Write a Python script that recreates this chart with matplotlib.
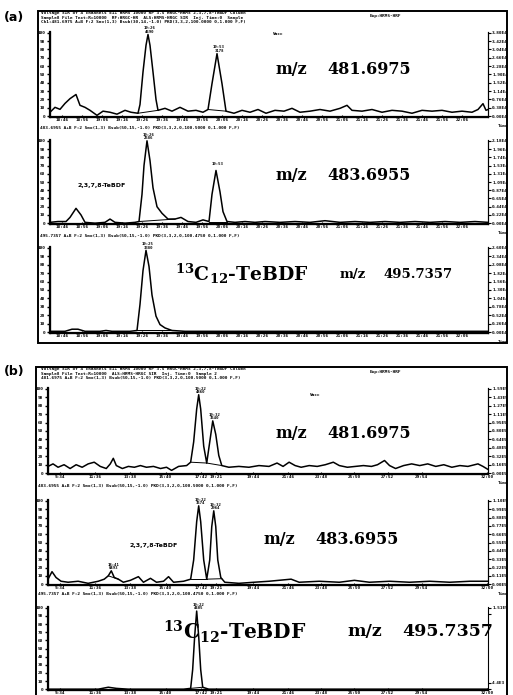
import numpy as np
import matplotlib
matplotlib.use("Agg")
import matplotlib.pyplot as plt
from matplotlib.patches import Rectangle

plt.rcParams['mathtext.fontset'] = 'custom'
plt.rcParams['mathtext.rm'] = 'DejaVu Serif:bold'
plt.rcParams['mathtext.it'] = 'DejaVu Serif:bold'
plt.rcParams['mathtext.bf'] = 'DejaVu Serif:bold'

# ---------------- data (scan number, relative intensity %) ----------------
# panel (a), m/z 481.6975
a1_scan = [0, 5, 10, 15, 20, 26, 30, 35, 40, 47, 53, 60, 67, 75, 81, 88, 90, 93, 96, 98, 100,
           103, 106, 108, 115, 122, 130, 138, 146, 153, 158, 162, 167, 172, 176, 184, 192, 200,
           208, 216, 225, 234, 242, 250, 260, 270, 280, 290, 297, 302, 312, 322, 332, 342, 352,
           362, 372, 382, 392, 402, 412, 422, 428, 433, 436, 438]
a1_int = [4.7, 10.6, 8.2, 15.3, 21, 26, 13, 10.6, 7, 1, 6, 4.7, 2.4, 7, 4.7, 3.5, 14, 53, 85, 98, 85,
          53, 20, 7, 9.4, 6, 10.6, 6, 7, 4.7, 8, 39, 75, 39, 6, 3.5, 7, 4.7, 8, 3.5, 7,
          6, 9.4, 4.7, 6, 8, 6, 9.4, 13, 7, 6, 8, 4.7, 7, 6, 3.5, 7, 6, 7, 4.7, 6, 4.7,
          8, 15, 7, 8]
# panel (a), m/z 483.6955
a2_scan = [0, 8, 16, 20, 26, 31, 35, 45, 55, 60, 65, 75, 85, 89, 92, 94, 97, 100, 103, 107, 112,
           118, 125, 131, 138, 146, 153, 159, 162, 166, 170, 173, 177, 185, 195, 205, 215, 230,
           245, 260, 275, 290, 305, 320, 335, 350, 365, 380, 395, 410, 425, 438]
a2_int = [1, 2, 2, 7, 18, 10, 1, 0, 1, 5, 1, 0, 1, 2, 35, 70, 100, 76, 43, 20, 12,
          5, 5, 7, 2, 1, 4, 2, 35, 64, 38, 14, 2, 1, 2, 1, 2, 1,
          2, 1, 3, 1, 2, 1, 2, 1, 2, 1, 2, 1, 2, 1]
# panel (a), 13C12-TeBDF m/z 495.7357
a3_scan = [0, 15, 22, 28, 35, 50, 56, 62, 80, 87, 90, 93, 96, 99, 102, 106, 110, 115, 122, 135,
           150, 200, 250, 300, 350, 400, 438]
a3_int = [1, 1, 3.5, 3.5, 1, 1, 2, 1, 1, 2, 33, 73, 97, 78, 44, 19, 9, 5, 2, 1,
          1, 1, 1, 1, 1, 1, 1]

# panel (b), m/z 481.6975
b1_scan = [0, 5, 10, 16, 22, 28, 34, 40, 46, 52, 58, 62, 65, 68, 74, 80, 86, 92, 98, 105, 112,
           118, 123, 130, 138, 142, 145, 148, 150, 152, 155, 158, 161, 164, 167, 170, 173, 180,
           190, 200, 210, 220, 228, 234, 240, 246, 252, 260, 268, 276, 284, 290, 298, 306, 314,
           322, 328, 335, 340, 346, 354, 362, 370, 378, 386, 394, 402, 410, 418, 428, 433, 438]
b1_int = [8, 11, 7, 10, 5.5, 10, 7, 11, 13, 8, 5.5, 11, 17.6, 9, 5.5, 8, 7, 9, 7, 8, 5.5,
          7, 3.3, 8, 9, 13, 37, 76, 93, 76, 32, 12, 37, 62, 46, 21, 9, 7,
          8, 7, 9, 8, 12, 8, 13, 9, 7, 9, 8, 10, 13, 9, 7, 8, 9,
          8, 10, 15, 9, 5.5, 9, 11, 9, 11, 8, 10, 7, 9, 8, 11, 8, 4.4]
# panel (b), m/z 483.6955
b2_scan = [0, 4, 8, 13, 20, 30, 40, 50, 56, 60, 63, 66, 70, 75, 82, 90, 95, 102, 108, 115, 120,
           125, 135, 142, 145, 148, 150, 152, 155, 158, 161, 163, 165, 167, 169, 172, 176, 190,
           205, 220, 242, 250, 270, 290, 305, 320, 340, 360, 380, 400, 420, 438]
b2_int = [6, 15, 8, 3.5, 2.3, 3.5, 1, 3.5, 6, 10, 16, 8, 6, 2.3, 4.6, 9, 2.3, 7, 2.3, 3.5, 9,
          2.3, 3.5, 6, 29, 75, 94, 75, 29, 6, 29, 69, 88, 69, 29, 8, 2.3, 1,
          2.3, 3.5, 6, 2.3, 3.5, 2.3, 4.6, 2.3, 3.5, 2.3, 3.5, 2.3, 3.5, 3.5]
# panel (b), 13C12-TeBDF m/z 495.7357
b3_scan = [0, 50, 60, 68, 80, 135, 142, 144, 146, 148, 150, 152, 154, 160, 250, 350, 438]
b3_int = [0, 0, 2.4, 1, 0, 0, 1, 24, 65, 96, 65, 24, 2.4, 0, 0, 0, 0]

# integrated peak windows (start scan, end scan) and their labels
a1_peaks = [(88, 108, "19:26", "4690"), (158, 176, "19:53", "3178")]
a2_peaks = [(89, 125, "19:26", "2586"), (159, 177, "19:53", "")]
a3_peaks = [(87, 122, "19:25", "3380")]
b1_peaks = [(142, 158, "19:22", "4860"), (158, 173, "19:32", "3540")]
b2_peaks = [(60, 70, "18:41", "0493"), (142, 158, "19:22", "3574"), (158, 173, "19:32", "2964")]
b3_peaks = [(142, 154, "19:22", "4405")]

# axis tick labels
left_labels = ["0", "10", "20", "30", "40", "50", "60", "70", "80", "90", "100"]
a_time_labels = ["18:46", "18:56", "19:06", "19:16", "19:26", "19:36", "19:46", "19:56",
                 "20:06", "20:16", "20:26", "20:36", "20:46", "20:56", "21:06", "21:16",
                 "21:26", "21:36", "21:46", "21:56", "22:06"]
b_time_labels = ["9:34", "11:36", "13:38", "15:40", "17:42", "19:21", "19:44",
                 "21:46", "23:48", "25:50", "27:52", "29:54", "32:00"]
a_right_top = ["3.80E4", "2.18E4", "2.60E4"]
b_right_top = ["1.59E5", "1.10E5", "1.51E5"]

a_headers = ["Voltage SIR of 4 channels EI+ HRMS 10000 RP 3.5 HRGC-HRMS 2,3,7,8-TeBDF Column",
             "Sample8 File Text:R=10000  RF:HRGC-HR  ALS:HRMS-HRGC SIR  Inj. Time:0  Sample",
             "Ch1:481.6975 A+B F:2 Smo(1,3) Bsub(30,14,-1.0) PKD(3,3,2,100.0000 0,1.000 F,F)"]
b_headers = ["Voltage SIR of 4 channels EI+ HRMS 10000 RP 3.5 HRGC-HRMS 2,3,7,8-TeBDF Column",
             "Sample8 File Text:R=10000  ALS:HRMS-HRGC SIR  Inj. Time:0  Sample 2",
             "481.6975 A+B F:2 Smo(1,3) Bsub(50,15,-1.0) PKD(3,3,2,0,100.5000 0,1.000 F,F)"]
a_mid_headers = ["483.6955 A+B F:2 Smo(1,3) Bsub(50,15,-1.0) PKD(3,3,2,0,100.5000 0,1.000 F,F)",
                 "495.7357 A+B F:2 Smo(1,3) Bsub(50,15,-1.0) PKD(3,3,2,0,100.4750 0,1.000 F,F)"]
b_mid_headers = ["483.6955 A+B F:2 Smo(1,3) Bsub(50,15,-1.0) PKD(3,3,2,0,100.5000 0,1.000 F,F)",
                 "495.7357 A+B F:2 Smo(1,3) Bsub(50,15,-1.0) PKD(3,3,2,0,100.4750 0,1.000 F,F)"]

# ---------------- figure ----------------
W, H = 513, 695
fig = plt.figure(figsize=(W / 100, H / 100), dpi=100)
fig.patch.set_facecolor('white')

tiny = dict(fontsize=3.2, family='DejaVu Sans Mono', fontweight='bold', color='black')


def px_rect(x0, y0, x1, y1):
    return [x0 / W, 1 - y1 / H, (x1 - x0) / W, (y1 - y0) / H]


def chrom(box, scans, ints, peaks, xtick_pos, xtick_lab, right_top, right_full=True):
    ax = fig.add_axes(px_rect(*box))
    ax.plot(scans, ints, color='black', lw=1.1)
    sc = np.array(scans)
    it = np.array(ints)
    for s0, s1, t, area in peaks:
        ax.plot([s0, s1], [np.interp(s0, sc, it), np.interp(s1, sc, it)], color='black', lw=0.7)
        sel = (sc >= s0) & (sc <= s1)
        i = np.argmax(it[sel])
        ax.text(sc[sel][i] + 2, it[sel][i] + 1, t + "\n" + area, ha='center', va='bottom',
                linespacing=0.8, fontsize=2.8, family='DejaVu Sans Mono', fontweight='bold')
    ax.set_xlim(0, 438)
    ax.set_ylim(-1, 101)
    ax.set_yticks(range(0, 101, 10))
    ax.set_yticklabels(left_labels, **tiny)
    ax.tick_params(axis='y', length=2.5, width=1.0, pad=1)
    ax.set_xticks(xtick_pos)
    ax.set_xticklabels(xtick_lab, **tiny)
    ax.tick_params(axis='x', length=1.5, width=0.8, pad=1, direction='in')
    for side in ['left', 'bottom']:
        ax.spines[side].set_linewidth(1.6)
    ax.spines['top'].set_visible(False)
    if right_full:
        ax.text(1.035, -0.08, "Time", transform=ax.transAxes, ha='center', va='top', **tiny)

    ax2 = ax.twinx()
    ax2.set_ylim(-1, 101)
    ax2.spines['top'].set_visible(False)
    ax2.spines['right'].set_visible(right_full)
    if right_full:
        ax2.set_yticks(range(0, 101, 10))
        mant, expo = right_top.split("E")
        labs = ["%.2fE%s" % (float(mant) * k / 10, expo) for k in range(11)]
        ax2.set_yticklabels(labs, **tiny)
    else:
        ax2.set_yticks([0, 8, 92, 100])
        ax2.set_yticklabels(["", "4.4E3", "", right_top], **tiny)
    ax2.tick_params(axis='y', length=2, width=0.8, pad=1)
    return ax


a_ticks = [12, 32, 52, 72, 92, 112, 132, 152, 172, 192, 212, 232, 252, 272, 292, 312,
           332, 352, 372, 392, 412]
b_ticks = [12, 47, 82, 117, 152, 167, 204, 239, 272, 305, 338, 372, 437]

chrom((50, 32, 488, 117), a1_scan, a1_int, a1_peaks, a_ticks, a_time_labels, a_right_top[0])
chrom((50, 140, 488, 224), a2_scan, a2_int, a2_peaks, a_ticks, a_time_labels, a_right_top[1])
chrom((50, 247, 488, 333), a3_scan, a3_int, a3_peaks, a_ticks, a_time_labels, a_right_top[2])
chrom((48, 388, 488, 474), b1_scan, b1_int, b1_peaks, b_ticks, b_time_labels, b_right_top[0])
chrom((48, 500, 488, 585), b2_scan, b2_int, b2_peaks, b_ticks, b_time_labels, b_right_top[1])
chrom((48, 607, 488, 690), b3_scan, b3_int, b3_peaks, b_ticks, b_time_labels, b_right_top[2],
      right_full=False)

# panel frames
for x0, y0, x1, y1 in [(38, 11, 507, 343), (36, 367, 507, 697)]:
    fig.patches.append(Rectangle((x0 / W, 1 - y1 / H), (x1 - x0) / W, (y1 - y0) / H,
                                 transform=fig.transFigure, fill=False, lw=1.4,
                                 edgecolor='black'))

# header lines
for i, t in enumerate(a_headers):
    fig.text(41 / W, 1 - (13 + 4.5 * i) / H, t, va='center', ha='left', **tiny)
for i, t in enumerate(b_headers):
    fig.text(41 / W, 1 - (369 + 4.5 * i) / H, t, va='center', ha='left', **tiny)
fig.text(370 / W, 1 - 17 / H, "Exp:HRMS-HRF", **tiny)
fig.text(370 / W, 1 - 373 / H, "Exp:HRMS-HRF", **tiny)
fig.text(273 / W, 1 - 35 / H, "Vacc", **tiny)
fig.text(310 / W, 1 - 396 / H, "Vacc", **tiny)
for y, t in zip([128, 236], a_mid_headers):
    fig.text(40 / W, 1 - y / H, t, va='center', ha='left', **tiny)
for y, t in zip([486, 594], b_mid_headers):
    fig.text(38 / W, 1 - y / H, t, va='center', ha='left', **tiny)

# panel letters
fig.text(4 / W, 1 - 18 / H, "(a)", fontsize=9, fontweight='bold', va='center')
fig.text(4 / W, 1 - 371 / H, "(b)", fontsize=9, fontweight='bold', va='center')


# large labels
def big_label(xp, xm, xv, y, fs_p, fs_v, prefix, mass):
    kw = dict(family='DejaVu Serif', fontweight='bold', va='center', ha='left')
    if prefix:
        fig.text(xp / W, 1 - y / H, prefix, fontsize=fs_p, **kw)
    fig.text(xm / W, 1 - y / H, "m/z", fontsize=fs_v, **kw)
    fig.text(xv / W, 1 - y / H, mass, fontsize=fs_v, **kw)


iso = r"$^{13}$C$_{12}$-TeBDF"
big_label(0, 275, 327, 69, 11.5, 11.5, "", "481.6975")
big_label(0, 275, 327, 176, 11.5, 11.5, "", "483.6955")
big_label(175, 340, 383, 274, 13.5, 9.5, iso, "495.7357")
big_label(0, 275, 327, 433, 11.5, 11.5, "", "481.6975")
big_label(0, 263, 315, 539, 11.5, 11.5, "", "483.6955")
big_label(163, 347, 402, 632, 14.5, 12.5, iso, "495.7357")

small = dict(fontsize=4.5, family='DejaVu Sans', fontweight='bold', va='center', ha='left')
fig.text(78 / W, 1 - 185 / H, "2,3,7,8-TeBDF", **small)
fig.text(129 / W, 1 - 545 / H, "2,3,7,8-TeBDF", **small)

fig.savefig("out.png", dpi=100)
